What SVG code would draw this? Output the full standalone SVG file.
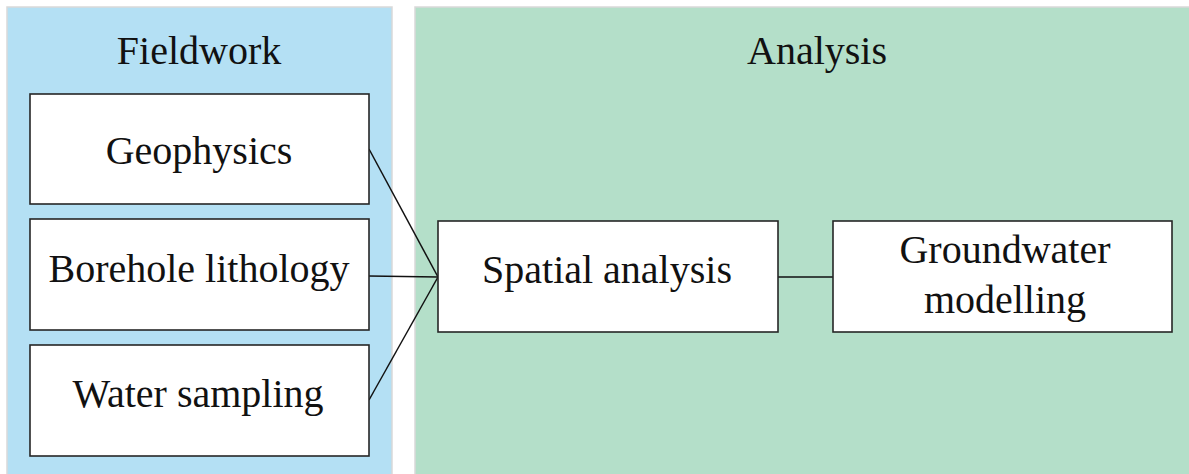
<svg xmlns="http://www.w3.org/2000/svg" width="1189" height="474" viewBox="0 0 1189 474">
<style>
.panel{stroke:#d9d9d9;stroke-width:1.5}
.box{fill:#ffffff;stroke:#262626;stroke-width:1.6}
.t{font-size:40px;fill:#111;text-anchor:middle}
.c{stroke:#111;stroke-width:1.5;fill:none}
</style>
<rect width="1189" height="474" fill="#ffffff"/>
<g font-family="Liberation Serif, Times New Roman, serif">
<g id="panel-fieldwork">
<rect class="panel" x="7" y="7" width="385" height="470" fill="#b4e0f4"/>
<text class="t" x="199" y="64">Fieldwork</text>
</g>
<g id="panel-analysis">
<rect class="panel" x="415" y="7" width="780" height="470" fill="#b4dfc9"/>
<text class="t" x="817" y="64">Analysis</text>
</g>
<g id="connectors">
<line class="c" x1="369" y1="149" x2="438" y2="277"/>
<line class="c" x1="369" y1="276" x2="438" y2="277"/>
<line class="c" x1="369" y1="400" x2="438" y2="277"/>
<line class="c" x1="778" y1="277" x2="833" y2="277"/>
</g>
<g id="node-geophysics">
<rect class="box" x="30" y="94" width="339" height="110"/>
<text class="t" x="199" y="164">Geophysics</text>
</g>
<g id="node-borehole">
<rect class="box" x="30" y="219" width="339" height="111"/>
<text class="t" x="199" y="282">Borehole lithology</text>
</g>
<g id="node-water">
<rect class="box" x="30" y="345" width="339" height="111"/>
<text class="t" x="198" y="407">Water sampling</text>
</g>
<g id="node-spatial">
<rect class="box" x="438" y="221" width="340" height="111"/>
<text class="t" x="607" y="283">Spatial analysis</text>
</g>
<g id="node-groundwater">
<rect class="box" x="833" y="221" width="339" height="111"/>
<text class="t" x="1005" y="263">Groundwater</text>
<text class="t" x="1005" y="313">modelling</text>
</g>
</g>
</svg>
